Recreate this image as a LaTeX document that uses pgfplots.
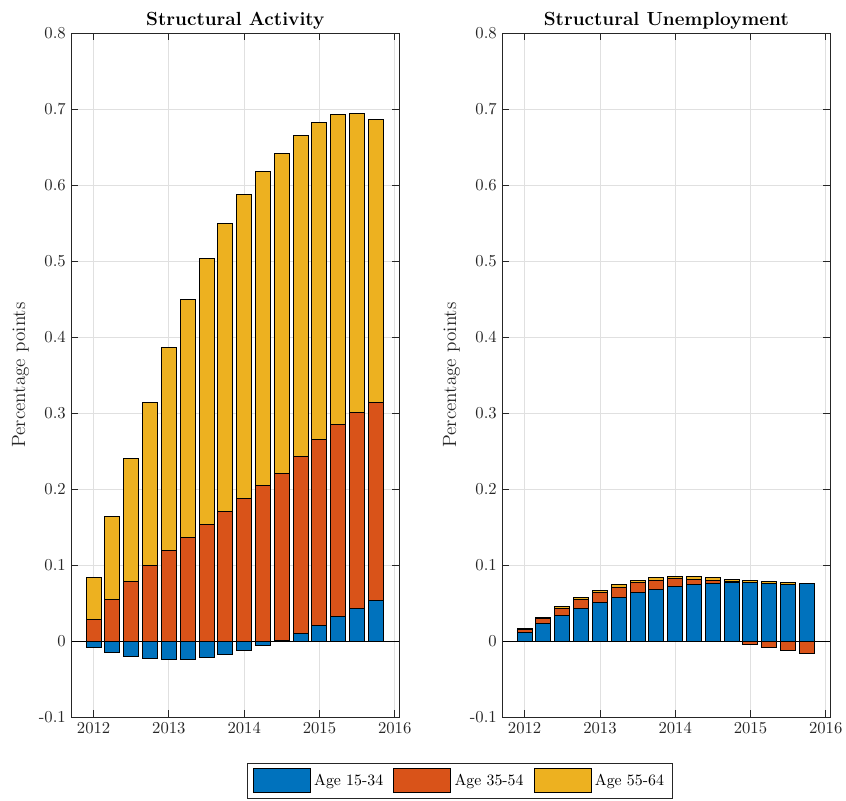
\documentclass[border=0pt]{standalone}
\usepackage{pgfplots}
\pgfplotsset{compat=1.18}
\usepackage{pgfplotstable}
\definecolor{mblue}{rgb}{0,0.447,0.741}
\definecolor{mred}{rgb}{0.85,0.325,0.098}
\definecolor{myel}{rgb}{0.929,0.694,0.125}
\definecolor{axgray}{rgb}{0.15,0.15,0.15}

% Structural Activity: blue (15-34) split into positive / negative parts
\pgfplotstableread{
x       bpos    bneg     r       y
2012.00 0       -0.0083  0.0280  0.0553
2012.25 0       -0.0154  0.0544  0.1092
2012.50 0       -0.0202  0.0780  0.1619
2012.75 0       -0.0228  0.1000  0.2140
2013.00 0       -0.0246  0.1188  0.2676
2013.25 0       -0.0237  0.1364  0.3127
2013.50 0       -0.0211  0.1530  0.3500
2013.75 0       -0.0171  0.1706  0.3784
2014.00 0       -0.0123  0.1877  0.3993
2014.25 0       -0.0061  0.2044  0.4136
2014.50 0.0010  0        0.2196  0.4214
2014.75 0.0096  0        0.2334  0.4220
2015.00 0.0206  0        0.2444  0.4170
2015.25 0.0325  0        0.2525  0.4075
2015.50 0.0430  0        0.2580  0.3930
2015.75 0.0535  0        0.2605  0.3720
}\leftdata

% Structural Unemployment: red (35-54) split into positive / negative parts
\pgfplotstableread{
x       b       rpos    rneg     y
2012.00 0.0110  0.0039  0        0.0011
2012.25 0.0232  0.0062  0        0.0016
2012.50 0.0338  0.0087  0        0.0027
2012.75 0.0430  0.0114  0        0.0026
2013.00 0.0509  0.0127  0        0.0026
2013.25 0.0575  0.0131  0        0.0035
2013.50 0.0640  0.0128  0        0.0030
2013.75 0.0680  0.0118  0        0.0035
2014.00 0.0720  0.0100  0        0.0031
2014.25 0.0746  0.0065  0        0.0035
2014.50 0.0763  0.0035  0        0.0035
2014.75 0.0776  0.0010  0        0.0025
2015.00 0.0768  0       -0.0044  0.0030
2015.25 0.0759  0       -0.0083  0.0021
2015.50 0.0746  0       -0.0123  0.0022
2015.75 0.0754  0       -0.0162  0.0008
}\rightdata

\pgfplotsset{
  panel/.style={
    scale only axis, width=196.4pt, height=410.4pt,
    xmin=2011.708, xmax=2016.057, ymin=-0.1, ymax=0.8,
    ybar stacked, bar width=0.2,
  },
  frame/.style={
    axis line style={axgray, line width=0.5pt},
    xtick={2012,2013,2014,2015,2016},
    ytick={-0.1,0,0.1,0.2,0.3,0.4,0.5,0.6,0.7,0.8},
    yticklabels={-0.1,0,0.1,0.2,0.3,0.4,0.5,0.6,0.7,0.8},
    xticklabel style={/pgf/number format/1000 sep={}},
    tick style={axgray, line width=0.5pt},
    major tick length=4pt,
    tick align=inside,
    grid=major, grid style={black!12, line width=0.5pt},
    ticklabel style={font=\fontsize{10}{12}\selectfont, text=axgray},
    title style={font=\bfseries\fontsize{11.4}{13}\selectfont, yshift=-7.2pt},
    ylabel={Percentage points},
    ylabel style={font=\fontsize{11.5}{13}\selectfont, text=axgray,
      at={(axis description cs:-0.156,0.5)}, anchor=center},
  },
  barst/.style={draw=black, line width=0.6pt, fill=#1,
    legend image code/.code={\draw[##1] (0pt,-7.2pt) rectangle (34.2pt,7.2pt);}},
}

\begin{document}
\begin{tikzpicture}
\useasboundingbox (0pt,0pt) rectangle (507.6pt,480pt);

% ---------- Left panel: positive parts ----------
\begin{axis}[panel, frame, at={(43.0pt,49.8pt)}, anchor=south west,
  title={Structural Activity},
  legend style={at={(1.1865,-0.0673)}, anchor=north, legend columns=3,
    draw=axgray, line width=0.5pt, font=\fontsize{9.5}{11}\selectfont,
    inner xsep=3pt, inner ysep=3pt,
    /tikz/every even column/.append style={column sep=4pt}},
  legend cell align=left]
\addplot[barst=mblue] table[x=x,y=bpos]{\leftdata};
\addlegendentry{Age 15-34}
\addplot[barst=mred] table[x=x,y=r]{\leftdata};
\addlegendentry{Age 35-54}
\addplot[barst=myel] table[x=x,y=y]{\leftdata};
\addlegendentry{Age 55-64}
\end{axis}
% ---------- Left panel: negative parts ----------
\begin{axis}[panel, hide axis, at={(43.0pt,49.8pt)}, anchor=south west]
\addplot[barst=mblue] table[x=x,y=bneg]{\leftdata};
\draw[black, line width=0.6pt] (axis cs:2011.708,0) -- (axis cs:2016.057,0);
\end{axis}

% ---------- Right panel: positive parts ----------
\begin{axis}[panel, frame, at={(301.6pt,49.8pt)}, anchor=south west,
  title={Structural Unemployment}]
\addplot[barst=mblue] table[x=x,y=b]{\rightdata};
\addplot[barst=mred] table[x=x,y=rpos]{\rightdata};
\addplot[barst=myel] table[x=x,y=y]{\rightdata};
\end{axis}
% ---------- Right panel: negative parts ----------
\begin{axis}[panel, hide axis, at={(301.6pt,49.8pt)}, anchor=south west]
\addplot[barst=mred] table[x=x,y=rneg]{\rightdata};
\draw[black, line width=0.6pt] (axis cs:2011.708,0) -- (axis cs:2016.057,0);
\end{axis}
\end{tikzpicture}
\end{document}
